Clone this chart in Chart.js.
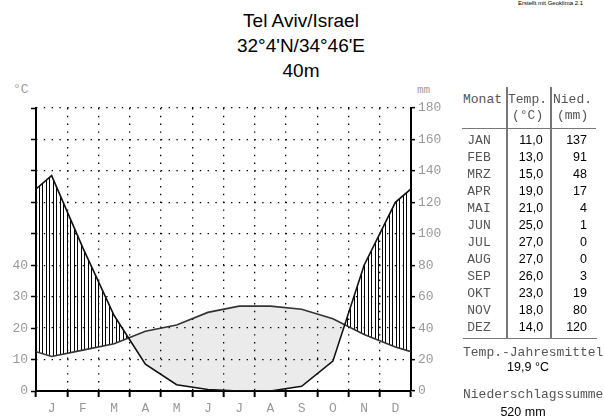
<!DOCTYPE html>
<html>
<head>
<meta charset="utf-8">
<script src="https://cdn.jsdelivr.net/npm/chart.js@4/dist/chart.umd.min.js"></script>
<style>
  html, body { margin: 0; padding: 0; background: #fff; }
  body { width: 604px; height: 420px; position: relative; overflow: hidden; }
  #chartBox { position: absolute; left: 0; top: 70px; width: 450px; height: 350px; }
  .abs { position: absolute; white-space: nowrap; }
  #title { position: absolute; left: 201px; width: 200px; top: 8px; text-align: center;
           font-family: "Liberation Sans", Arial, sans-serif; font-size: 19px; line-height: 25px; color: #000; }
  #credit { left: 518px; top: 0px; font-family: "Liberation Sans", Arial, sans-serif; font-size: 6px; color: #000; }
  .mono { font-family: "Liberation Mono", "Courier New", monospace; font-size: 13px; color: #555; line-height: 17px; }
  .sans { font-family: "Liberation Sans", Arial, sans-serif; font-size: 12.5px; color: #000; line-height: 17px; }
  .unit { font-family: "Liberation Mono", "Courier New", monospace; color: #a0a0a0; }
  .rule { position: absolute; background: #777; }
</style>
</head>
<body>
<div id="title"><div>Tel Aviv/Israel</div><div>32°4'N/34°46'E</div><div>40m</div></div>
<div id="credit" class="abs">Erstellt mit Geoklima 2.1</div>
<div class="abs unit" style="left:13px; top:82px; font-size:13px;">°C</div>
<div class="abs unit" style="left:417px; top:84px; font-size:11px;">mm</div>
<div id="chartBox"><canvas id="c" width="450" height="350"></canvas></div>
<div id="table"></div>
<script>
// ---- data ----
const monthLetters = ['J','F','M','A','M','J','J','A','S','O','N','D'];
const monthNames = ['JAN','FEB','MRZ','APR','MAI','JUN','JUL','AUG','SEP','OKT','NOV','DEZ'];
const temperature = [11.0, 13.0, 15.0, 19.0, 21.0, 25.0, 27.0, 27.0, 26.0, 23.0, 18.0, 14.0];
const precipitation = [137, 91, 48, 17, 4, 1, 0, 0, 3, 19, 80, 120];
const tempTicks = [0, 10, 20, 30, 40];
const precipTicks = [0, 20, 40, 60, 80, 100, 120, 140, 160, 180];
const annualMeanTemp = '19,9 °C';
const annualPrecip = '520 mm';

// ---- helpers ----
function toPoints(arr) {
  const edge = (arr[0] + arr[arr.length - 1]) / 2;
  const pts = [{ x: 0, y: edge }];
  arr.forEach((v, i) => pts.push({ x: i + 0.5, y: v }));
  pts.push({ x: arr.length, y: edge });
  return pts;
}
function fmt1(v) { return v.toFixed(1).replace('.', ','); }

// hatch pattern
const pc = document.createElement('canvas');
pc.width = 7; pc.height = 7;
const pctx = pc.getContext('2d');
pctx.fillStyle = '#000';
pctx.fillRect(0, 0, 1, 7);
pctx.fillRect(4, 0, 1, 7);
const hatch = document.getElementById('c').getContext('2d').createPattern(pc, 'repeat');

const gridDash = [1.4, 6.4];
const tickFont = { family: '"Liberation Mono", "Courier New", monospace', size: 13 };

new Chart(document.getElementById('c'), {
  type: 'line',
  data: {
    datasets: [
      {
        label: 'Niederschlag',
        data: toPoints(precipitation),
        yAxisID: 'yP',
        borderColor: '#111',
        borderWidth: 1.6,
        pointRadius: 0,
        fill: false,
        tension: 0
      },
      {
        label: 'Temperatur',
        data: toPoints(temperature),
        yAxisID: 'yT',
        borderColor: '#333',
        borderWidth: 1.6,
        pointRadius: 0,
        tension: 0,
        fill: { target: 0, above: 'rgba(0,0,0,0.08)', below: hatch }
      }
    ]
  },
  options: {
    responsive: false,
    animation: false,
    devicePixelRatio: 1,
    layout: { padding: { top: 38, left: 0, right: 0, bottom: 0 } },
    plugins: { legend: { display: false }, tooltip: { enabled: false }, title: { display: false } },
    scales: {
      x: {
        type: 'linear', min: 0, max: 12,
        afterFit: s => { s.height = 29; },
        ticks: {
          stepSize: 1, autoSkip: false, maxRotation: 0, labelOffset: 15.6, padding: 4,
          color: '#999', font: tickFont,
          callback: v => monthLetters[v] || ''
        },
        grid: { color: '#000', lineWidth: 1.3, tickLength: 6, tickColor: '#000', tickWidth: 2, drawOnChartArea: true },
        border: { display: true, color: '#000', width: 2, dash: gridDash }
      },
      yT: {
        position: 'left', min: 0, max: 90,
        afterFit: s => { s.width = 36; },
        afterBuildTicks: s => { s.ticks = [0,10,20,30,40,50,60,70,80,90].map(v => ({ value: v })); },
        ticks: {
          color: '#999', font: tickFont, padding: 3,
          callback: v => tempTicks.includes(v) ? String(v) : ''
        },
        grid: { drawOnChartArea: false, tickLength: 5, tickColor: '#000', tickWidth: 1.5 },
        border: { display: true, color: '#000', width: 2 }
      },
      yP: {
        position: 'right', min: 0, max: 180,
        afterFit: s => { s.width = 39; },
        afterBuildTicks: s => { s.ticks = precipTicks.map(v => ({ value: v })); },
        ticks: { color: '#999', font: tickFont, padding: 3 },
        grid: { color: '#000', lineWidth: 1.3, tickLength: 4, tickColor: '#000', tickWidth: 1.5, drawOnChartArea: true },
        border: { display: true, color: '#000', width: 2, dash: gridDash }
      }
    }
  }
});

// ---- table ----
const tbl = document.getElementById('table');
function add(html, cls, style) {
  const d = document.createElement('div');
  d.className = 'abs ' + cls;
  d.style.cssText = style;
  d.textContent = html;
  tbl.appendChild(d);
  return d;
}
add('Monat', 'mono', 'left:463px; top:91px;');
add('Temp.', 'mono', 'left:508px; top:91px;');
add('Nied.', 'mono', 'left:553px; top:91px;');
add('(°C)', 'mono', 'left:512px; top:107px;');
add('(mm)', 'mono', 'left:557px; top:107px;');
monthNames.forEach((m, i) => {
  const top = 131.5 + i * 17;
  add(m, 'mono', 'left:449px; width:60px; text-align:center; top:' + top + 'px;');
  add(fmt1(temperature[i]), 'sans', 'left:505px; width:52px; text-align:center; top:' + top + 'px;');
  add(String(precipitation[i]), 'sans', 'left:547px; width:40px; text-align:right; top:' + top + 'px;');
});
add('Temp.-Jahresmittel', 'mono', 'left:463px; top:344px;');
add(annualMeanTemp, 'sans', 'left:488px; width:80px; text-align:center; top:359px;');
add('Niederschlagssumme', 'mono', 'left:463px; top:386px;');
add(annualPrecip, 'sans', 'left:483px; width:80px; text-align:center; top:404px;');
const rules = [
  'left:506px; top:87px; width:1.5px; height:251px;',
  'left:550px; top:87px; width:1.5px; height:251px;',
  'left:462px; top:128px; width:134px; height:1px;',
  'left:463px; top:338px; width:134px; height:1px;'
];
rules.forEach(r => { const d = document.createElement('div'); d.className = 'rule'; d.style.cssText = r; tbl.appendChild(d); });
</script>
</body>
</html>
